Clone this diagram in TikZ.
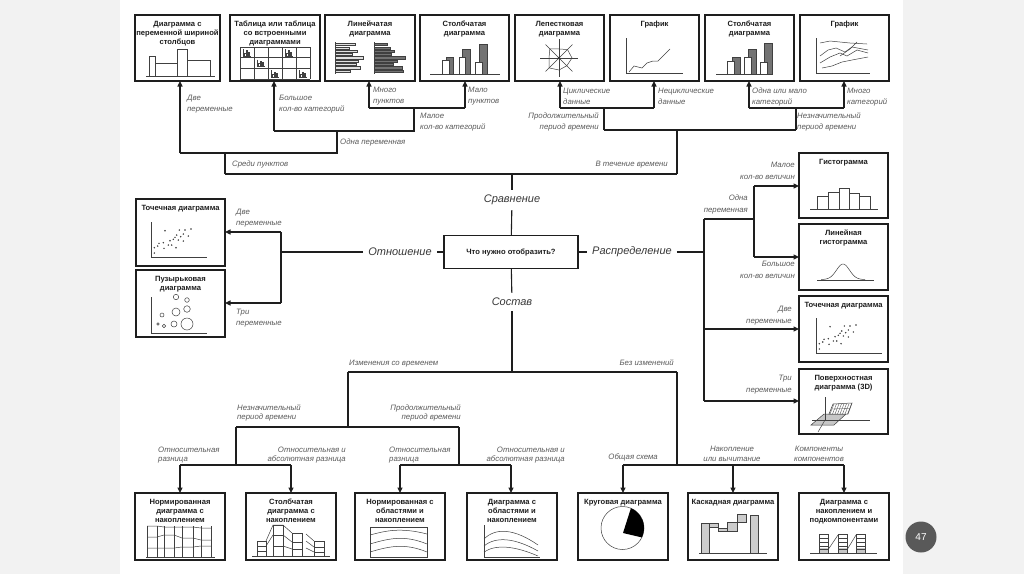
\documentclass[tikz,border=0pt]{standalone}
\usepackage{fontspec}
\setmainfont{Liberation Sans}
\usetikzlibrary{arrows.meta}
\definecolor{margin}{HTML}{F2F2F2}
\definecolor{ink}{HTML}{1E1E1E}
\definecolor{labgray}{HTML}{5A5A5A}
\tikzset{
 box/.style={draw=ink, line width=1.4pt, fill=white, anchor=north west, inner sep=0pt, outer sep=0pt},
 ttl/.style={font=\fontsize{7.6}{9}\selectfont\bfseries, align=center, anchor=north, inner sep=0pt, text=ink, execute at begin node={\vphantom{Йб}}},
 lab/.style={font=\fontsize{7.8}{10.5}\selectfont\itshape, text=labgray, inner sep=0pt},
 labl/.style={lab, align=left, anchor=north west},
 labr/.style={lab, align=right, anchor=north east},
 labc/.style={lab, align=center, anchor=north},
 big/.style={font=\fontsize{11}{13}\selectfont\itshape, text=black!78, inner sep=5pt},
 conn/.style={draw=ink, line width=1.1pt},
 arr/.style={conn, -{Triangle[length=5.5pt,width=5pt]}},
 mini/.style={draw=black!75, line width=0.5pt},
 dot/.style={fill=black!80},
}
\begin{document}
\begin{tikzpicture}[x=1pt,y=-1pt]
\useasboundingbox (0,0) rectangle (1024,574);
\fill[margin] (0,0) rectangle (1024,574);
\fill[white] (120,0) rectangle (903,574);

% ---------- top row boxes ----------
\node[box, minimum width=85pt, minimum height=66pt] (t1) at (135,15) {};
\node[box, minimum width=90pt, minimum height=66pt] (t2) at (230,15) {};
\node[box, minimum width=90pt, minimum height=66pt] (t3) at (325,15) {};
\node[box, minimum width=89pt, minimum height=66pt] (t4) at (420,15) {};
\node[box, minimum width=89pt, minimum height=66pt] (t5) at (515,15) {};
\node[box, minimum width=89pt, minimum height=66pt] (t6) at (610,15) {};
\node[box, minimum width=89pt, minimum height=66pt] (t7) at (705,15) {};
\node[box, minimum width=89pt, minimum height=66pt] (t8) at (800,15) {};
\node[ttl] (t1l) at ([yshift=-6pt]t1.north) {Диаграмма с\\переменной шириной\\столбцов};
\node[ttl] (t2l) at ([yshift=-6pt]t2.north) {Таблица или таблица\\со встроенными\\диаграммами};
\node[ttl] (t3l) at ([yshift=-6pt]t3.north) {Линейчатая\\диаграмма};
\node[ttl] (t4l) at ([yshift=-6pt]t4.north) {Столбчатая\\диаграмма};
\node[ttl] (t5l) at ([yshift=-6pt]t5.north) {Лепестковая\\диаграмма};
\node[ttl] (t6l) at ([yshift=-4pt]t6.north) {График};
\node[ttl] (t7l) at ([yshift=-6pt]t7.north) {Столбчатая\\диаграмма};
\node[ttl] (t8l) at ([yshift=-4pt]t8.north) {График};

% mini charts top row
% t1 variable width
\draw[mini] (146,76) -- (215,76);
\draw[mini] (149,76) rectangle (155,56);
\draw[mini] (155,76) rectangle (177,63);
\draw[mini] (177,76) rectangle (187,49);
\draw[mini] (187,76) rectangle (210,60);
% t2 table
\foreach \gx in {240,254,268,282,296,310} \draw[mini] (\gx,47) -- (\gx,79);
\foreach \gy in {47,57.7,68.3,79} \draw[mini] (240,\gy) -- (310,\gy);
\foreach \cx/\cy in {0/0,3/0,1/1,2/2,4/2}{
 \begin{scope}[shift={({240+14*\cx+3},{47+10.67*\cy+9})}]
  \draw[mini, line width=0.4pt] (0,-7) -- (0,0) -- (8,0);
  \draw[mini, line width=0.4pt] (1.5,0) rectangle (3,-3) (3,0) rectangle (4.5,-5.5) (5,0) rectangle (6.5,-4);
 \end{scope}}
% t3 horizontal bars
\draw[mini] (335,42) -- (335,74);
\draw[mini] (374,42) -- (374,74);
\foreach \i/\la/\lb in {0/355/387,1/349/390,2/357/394,3/352/391,4/363/405,5/358/397,6/356/393,7/360/402,8/350/403}{
 \filldraw[mini, fill=black!12] (335,{43.5+3.3*\i}) rectangle (\la,{45.7+3.3*\i});
 \filldraw[mini, fill=black!55] (374,{43.5+3.3*\i}) rectangle (\lb,{45.7+3.3*\i});}
% t4 columns
\draw[mini] (430,74) -- (500,74);
\filldraw[mini, fill=black!55] (446,74) rectangle (453,57) (462,74) rectangle (470,49) (479,74) rectangle (487,44);
\filldraw[mini, fill=white] (442,74) rectangle (449,60) (459,74) rectangle (465,57) (475,74) rectangle (482,62);
% t5 radar
\foreach \a in {0,45,...,315} \draw[mini] (559,58) -- ++(\a:19);
\draw[mini] (559,58) +(0:13) -- +(45:11) -- +(90:12) -- +(135:14) -- +(180:10) -- +(225:13) -- +(270:9) -- +(315:12) -- cycle;
\fill[dot] (559,58) circle (1.4);
% t6 line chart
\draw[mini] (626,38) -- (626,73) -- (683,73);
\draw[mini] (629,72) -- (634,66) -- (642,68) -- (647,63) -- (653,61) -- (658,61) -- (670,49);
% t7 columns
\draw[mini] (716,74) -- (772,74);
\filldraw[mini, fill=black!55] (732,74) rectangle (740,57) (748,74) rectangle (756,49) (764,74) rectangle (772,43);
\filldraw[mini, fill=white] (727,74) rectangle (734,61) (744,74) rectangle (751,57) (760,74) rectangle (767,62);
% t8 multi lines
\draw[mini] (816,38) -- (816,73) -- (870,73);
\draw[mini] (820,43) -- (830,41) -- (840,42) -- (850,43) -- (867,44);
\draw[mini] (820,63) -- (830,57) -- (840,53) -- (847,56) -- (857,50) -- (868,53);
\draw[mini] (820,56) -- (828,50) -- (836,48) -- (845,52) -- (852,47) -- (868,50);
\draw[mini] (822,68) -- (832,66) -- (842,62) -- (852,60) -- (868,57);
\draw[mini] (840,56) -- (850,49) -- (857,42);

% ---------- top connectors ----------
\coordinate (jTL) at (225,174);
\coordinate (jTM) at (512,174);
\coordinate (jTR) at (677,174);
\coordinate (jA) at (225,153);
\coordinate (jA1) at (180,153);
\coordinate (jA2) at (337,153);
\coordinate (jB2) at (337,131);
\coordinate (jB1) at (274,131);
\coordinate (jB3) at (414,131);
\coordinate (jC3) at (414,108);
\coordinate (jC1) at (369,108);
\coordinate (jC2) at (465,108);
\draw[conn] (jTL) -- (jTR);
\draw[conn] (jTL) -- (jA);
\draw[conn] (jA1) -- (jA2) -- (jB2);
\draw[arr] (jA1) -- (jA1 |- t1.south);
\draw[conn] (jB1) -- (jB3) -- (jC3);
\draw[arr] (jB1) -- (jB1 |- t2.south);
\draw[conn] (jC1) -- (jC2);
\draw[arr] (jC1) -- (jC1 |- t3.south);
\draw[arr] (jC2) -- (jC2 |- t4.south);

\coordinate (jD) at (677,130);
\coordinate (jD1) at (604,130);
\coordinate (jD2) at (796,130);
\coordinate (jE1) at (604,108);
\coordinate (jE1a) at (560,108);
\coordinate (jE1b) at (654,108);
\coordinate (jE2) at (796,108);
\coordinate (jE2a) at (749,108);
\coordinate (jE2b) at (844,108);
\draw[conn] (jTR) -- (jD);
\draw[conn] (jD1) -- (jD2);
\draw[conn] (jD1) -- (jE1);
\draw[conn] (jD2) -- (jE2);
\draw[conn] (jE1a) -- (jE1b);
\draw[conn] (jE2a) -- (jE2b);
\draw[arr] (jE1a) -- (jE1a |- t5.south);
\draw[arr] (jE1b) -- (jE1b |- t6.south);
\draw[arr] (jE2a) -- (jE2a |- t7.south);
\draw[arr] (jE2b) -- (jE2b |- t8.south);

% top labels
\node[labl] (a1) at (187,95) {Две\\переменные};
\node[labl] (a2) at (279,95) {Большое\\кол-во категорий};
\node[labl] (a3) at (373,87) {Много\\пунктов};
\node[labl] (a4) at (468,87) {Мало\\пунктов};
\node[labl] (a5) at (420,113) {Малое\\кол-во категорий};
\node[labl] (a6) at (340,139) {Одна переменная};
\node[labl] (a7) at (232,161) {Среди пунктов};
\node[labl] (a8) at (563,88) {Циклические\\данные};
\node[labl] (a9) at (658,88) {Нециклические\\данные};
\node[labl] (a10) at (752,88) {Одна или мало\\категорий};
\node[labl] (a11) at (847,88) {Много\\категорий};
\node[labr] (a12) at (599,113) {Продолжительный\\период времени};
\node[labl] (a13) at (797,113) {Незначительный\\период времени};
\node[labr] (a14) at (668,161) {В течение времени};

% ---------- centre ----------
\node[box, minimum width=134pt, minimum height=33pt, font=\fontsize{7.6}{9}\selectfont\bfseries, text=ink] (q) at (444,235.5) {Что нужно отобразить?};
\node[big] (srav) at (512,200) {Сравнение};
\node[big] (otn) at (400,252) {Отношение};
\node[big] (rasp) at (632,252) {Распределение};
\node[big] (sost) at (512,302) {Состав};
\draw[conn] (jTM) -- (srav);
\draw[conn] (srav) -- (q);
\draw[conn] (q) -- (otn);
\draw[conn] (q) -- (rasp);
\draw[conn] (q) -- (sost);

% ---------- left (relation) ----------
\node[box, minimum width=89pt, minimum height=67pt] (l1) at (136,199) {};
\node[box, minimum width=89pt, minimum height=67pt] (l2) at (136,270) {};
\node[ttl] (l1l) at ([yshift=-4pt]l1.north) {Точечная диаграмма};
\node[ttl] (l2l) at ([yshift=-6pt]l2.north) {Пузырьковая\\диаграмма};
\coordinate (jO) at (281,252);
\coordinate (jO1) at (281,232);
\coordinate (jO2) at (281,303);
\draw[conn] (otn) -- (jO);
\draw[conn] (jO1) -- (jO2);
\draw[arr] (jO1) -- (jO1 -| l1.east);
\draw[arr] (jO2) -- (jO2 -| l2.east);
\node[labl] (b1a) at (236,209) {Две\\переменные};
\node[labl] (b2a) at (236,309) {Три\\переменные};
% scatter
\draw[mini] (151,222) -- (151,257) -- (207,257);
\foreach \px/\py in {165/230.7,154.3/247.7,157.7/246,159/243.3,163.3/242.7,154.3/253,164/248.3,170/240.7,171.7/245,173.3/239.3,175/237.3,176.7/235,179.3/230,178.3/240,180.7/236.7,183.3/234,183.3/241,185/230,188.3/236,191/229,176/247.7,168.3/245}
 \fill[dot] (\px,\py) circle (0.8);
% bubbles
\draw[mini] (151,297) -- (151,333) -- (207,333);
\foreach \px/\py/\pr in {176/297/2.7,187/300/2.3,176/312/4,187/309/3.3,162/315/2,158/324/1.3,164/326/1.7,174/324/3,187/324/6}
 \draw[mini] (\px,\py) circle (\pr);

% ---------- right (distribution) ----------
\node[box, minimum width=89pt, minimum height=65pt] (r1) at (799,153) {};
\node[box, minimum width=89pt, minimum height=66pt] (r2) at (799,224) {};
\node[box, minimum width=89pt, minimum height=66pt] (r3) at (799,296) {};
\node[box, minimum width=89pt, minimum height=65pt] (r4) at (799,369) {};
\node[ttl] (r1l) at ([yshift=-4pt]r1.north) {Гистограмма};
\node[ttl] (r2l) at ([yshift=-6pt]r2.north) {Линейная\\гистограмма};
\node[ttl] (r3l) at ([yshift=-4pt]r3.north) {Точечная диаграмма};
\node[ttl] (r4l) at ([yshift=-6pt]r4.north) {Поверхностная\\диаграмма (3D)};
\coordinate (jR) at (704,252);
\coordinate (jR1) at (704,219);
\coordinate (jR3) at (704,329);
\coordinate (jR4) at (704,401);
\coordinate (jS) at (754,219);
\coordinate (jS1) at (754,186);
\coordinate (jS2) at (754,257);
\draw[conn] (rasp) -- (jR);
\draw[conn] (jR1) -- (jR4);
\draw[conn] (jR1) -- (jS);
\draw[conn] (jS1) -- (jS2);
\draw[arr] (jS1) -- (jS1 -| r1.west);
\draw[arr] (jS2) -- (jS2 -| r2.west);
\draw[arr] (jR3) -- (jR3 -| r3.west);
\draw[arr] (jR4) -- (jR4 -| r4.west);
\node[labr, font=\fontsize{7.8}{12}\selectfont\itshape] (c1) at (795,162) {Малое\\кол-во величин};
\node[labr, font=\fontsize{7.8}{12}\selectfont\itshape] (c2) at (748,195) {Одна\\переменная};
\node[labr, font=\fontsize{7.8}{12}\selectfont\itshape] (c3) at (795,261) {Большое\\кол-во величин};
\node[labr, font=\fontsize{7.8}{12}\selectfont\itshape] (c4) at (792,306) {Две\\переменные};
\node[labr, font=\fontsize{7.8}{12}\selectfont\itshape] (c5) at (792,375) {Три\\переменные};
% histogram
\draw[mini] (810,209) -- (878,209);
\draw[mini] (817,209) rectangle (828,196) (828,209) rectangle (839,192) (839,209) rectangle (849,188) (849,209) rectangle (859,193) (859,209) rectangle (870,196);
% bell
\draw[mini] (817,280) -- (874,280);
\draw[mini] plot[domain=-22:22, samples=45, smooth] ({843+\x},{279.5-15.5*exp(-((\x)*(\x))/85)});
% scatter right
\begin{scope}[shift={(665,96)}]
\draw[mini] (151,222) -- (151,257) -- (217,257);
\foreach \px/\py in {165/230.7,154.3/247.7,157.7/246,159/243.3,163.3/242.7,154.3/253,164/248.3,170/240.7,171.7/245,173.3/239.3,175/237.3,176.7/235,179.3/230,178.3/240,180.7/236.7,183.3/234,183.3/241,185/230,188.3/236,191/229,176/247.7,168.3/245}
 \fill[dot] (\px,\py) circle (0.8);
\end{scope}
% 3D surface
\filldraw[mini, fill=black!22] (811,425) -- (824,414) -- (846,414) -- (834,425) -- cycle;
\draw[mini] (825,397) -- (825,420);
\draw[mini] (812,420) -- (870,420);
\draw[mini] (825,420) -- (818,432);
\filldraw[mini, fill=white] (829,414) -- (833,404) -- (852,403) -- (848,414) -- cycle;
\foreach \h in {0,2.5,...,17.5} \draw[mini, line width=0.3pt] ({830+\h},414) -- ({834+\h},403.8);
\draw[mini, line width=0.3pt] (831,409) -- (850,408.5);

% ---------- bottom (composition) ----------
\coordinate (jU) at (512,372);
\coordinate (jUL) at (348,372);
\coordinate (jUR) at (677,372);
\coordinate (jV) at (348,427);
\coordinate (jVL) at (236,427);
\coordinate (jVR) at (459,427);
\coordinate (jW1) at (236,465);
\coordinate (jW1a) at (180,465);
\coordinate (jW1b) at (291,465);
\coordinate (jW2) at (459,465);
\coordinate (jW2a) at (400,465);
\coordinate (jW2b) at (511,465);
\coordinate (jW3) at (677,465);
\coordinate (jW3a) at (623,465);
\coordinate (jW3b) at (733,465);
\coordinate (jW3c) at (844,465);
\draw[conn] (sost) -- (jU);
\draw[conn] (jUL) -- (jUR);
\draw[conn] (jUL) -- (jV);
\draw[conn] (jVL) -- (jVR);
\draw[conn] (jVL) -- (jW1);
\draw[conn] (jW1a) -- (jW1b);
\draw[conn] (jVR) -- (jW2);
\draw[conn] (jW2a) -- (jW2b);
\draw[conn] (jUR) -- (jW3);
\draw[conn] (jW3a) -- (jW3c);

\node[box, minimum width=90pt, minimum height=67pt] (b1) at (135,493) {};
\node[box, minimum width=90pt, minimum height=67pt] (b2) at (246,493) {};
\node[box, minimum width=90pt, minimum height=67pt] (b3) at (355,493) {};
\node[box, minimum width=90pt, minimum height=67pt] (b4) at (467,493) {};
\node[box, minimum width=90pt, minimum height=67pt] (b5) at (578,493) {};
\node[box, minimum width=90pt, minimum height=67pt] (b6) at (688,493) {};
\node[box, minimum width=90pt, minimum height=67pt] (b7) at (799,493) {};
\node[ttl] (b1l) at ([yshift=-6pt]b1.north) {Нормированная\\диаграмма с\\накоплением};
\node[ttl] (b2l) at ([yshift=-6pt]b2.north) {Столбчатая\\диаграмма с\\накоплением};
\node[ttl] (b3l) at ([yshift=-6pt]b3.north) {Нормированная с\\областями и\\накоплением};
\node[ttl] (b4l) at ([yshift=-6pt]b4.north) {Диаграмма с\\областями и\\накоплением};
\node[ttl] (b5l) at ([yshift=-4pt]b5.north) {Круговая диаграмма};
\node[ttl] (b6l) at ([yshift=-4pt]b6.north) {Каскадная диаграмма};
\node[ttl] (b7l) at ([yshift=-6pt]b7.north) {Диаграмма с\\накоплением и\\подкомпонентами};
\draw[arr] (jW1a) -- (jW1a |- b1.north);
\draw[arr] (jW1b) -- (jW1b |- b2.north);
\draw[arr] (jW2a) -- (jW2a |- b3.north);
\draw[arr] (jW2b) -- (jW2b |- b4.north);
\draw[arr] (jW3a) -- (jW3a |- b5.north);
\draw[arr] (jW3b) -- (jW3b |- b6.north);
\draw[arr] (jW3c) -- (jW3c |- b7.north);

\node[labl] (d1) at (349,360) {Изменения со временем};
\node[labr] (d2) at (674,360) {Без изменений};
\node[labl, font=\fontsize{7.8}{9}\selectfont\itshape] (d3) at (237,405) {Незначительный\\период времени};
\node[labr, font=\fontsize{7.8}{9}\selectfont\itshape] (d4) at (461,405) {Продолжительный\\период времени};
\node[labl, font=\fontsize{7.8}{9}\selectfont\itshape] (d5) at (158,447) {Относительная\\разница};
\node[labr, font=\fontsize{7.8}{9}\selectfont\itshape] (d6) at (346,447) {Относительная и\\абсолютная разница};
\node[labl, font=\fontsize{7.8}{9}\selectfont\itshape] (d7) at (389,447) {Относительная\\разница};
\node[labr, font=\fontsize{7.8}{9}\selectfont\itshape] (d8) at (565,447) {Относительная и\\абсолютная разница};
\node[labr] (d9) at (658,454) {Общая схема};
\node[labc, font=\fontsize{7.8}{10}\selectfont\itshape] (d10) at (732,446) {Накопление\\или вычитание};
\node[labc, font=\fontsize{7.8}{10}\selectfont\itshape] (d11) at (819,446) {Компоненты\\компонентов};

% b1 normalized stacked
\draw[mini] (146,557) -- (215,557);
\foreach \cl/\cr in {147/157,164/174,182/193,201/211} \draw[mini] (\cl,557) -- (\cl,526) (\cr,557) -- (\cr,526);
\draw[mini] (147,526) -- (157,526) -- (164,527) -- (174,527) -- (182,527) -- (193,527) -- (201,528) -- (211,528);
\draw[mini] (147,537) -- (157,537) -- (164,535) -- (174,535) -- (182,538) -- (193,538) -- (201,540) -- (211,540);
\draw[mini] (147,548) -- (157,548) -- (164,548) -- (174,548) -- (182,547) -- (193,547) -- (201,546) -- (211,546);
% b2 stacked
\draw[mini] (252,556) -- (330,556);
\draw[mini] (257,556) rectangle (266,541) (273,556) rectangle (283,525) (292,556) rectangle (302,533) (314,556) rectangle (324,541);
\draw[mini] (257,546) -- (266,546) (257,551) -- (266,551);
\draw[mini] (273,535) -- (283,535) (273,546) -- (283,546);
\draw[mini] (292,542) -- (302,542) (292,549) -- (302,549);
\draw[mini] (314,547) -- (324,547) (314,552) -- (324,552);
\draw[mini] (266,541) -- (273,525) -- (283,525) -- (292,533);
\draw[mini] (266,546) -- (273,535) (283,535) -- (292,542) (283,546) -- (292,549);
\draw[mini] (306,534) -- (314,541) (306,541) -- (314,547) (306,548) -- (314,552);
% b3 normalized area
\draw[mini] (370,527) rectangle (427,557);
\draw[mini] (370,535) .. controls (385,531) and (400,527) .. (427,534);
\draw[mini] (370,544) .. controls (390,538) and (405,535) .. (427,544);
\draw[mini] (370,552) .. controls (390,546) and (405,543) .. (427,552);
% b4 area
\draw[mini] (484,525) -- (484,557) -- (540,557);
\draw[mini] (484,539) .. controls (496,527) and (515,529) .. (538,545);
\draw[mini] (484,546) .. controls (496,536) and (515,538) .. (538,551);
\draw[mini] (484,552) .. controls (496,544) and (515,546) .. (538,556);
% b5 pie
\draw[mini] (622.5,528) circle (21.5);
\fill[black] (623,533) -- ([shift={(-67:21.5)}]622.5,528) arc[start angle=-67, end angle=26, radius=21.5] -- cycle;
% b6 waterfall
\draw[mini] (699,553) -- (767,553);
\filldraw[mini, fill=black!20] (701,553) rectangle (709,523);
\filldraw[mini, fill=black!20] (709,523) rectangle (718,527);
\filldraw[mini, fill=black!20] (718,528) rectangle (727,531);
\filldraw[mini, fill=black!20] (727,522) rectangle (737,531);
\filldraw[mini, fill=black!20] (737,514) rectangle (746,522);
\filldraw[mini, fill=black!20] (750,553) rectangle (758,515);
% b7 subcomponents
\draw[mini] (810,553) -- (877,553);
\foreach \cl in {819,838,856}{
 \fill[black!22] (\cl,548) rectangle ({\cl+9.5},553);
 \draw[mini] (\cl,553) rectangle ({\cl+9.5},534);
 \foreach \hy in {538,542,546,549.5} \draw[mini, line width=0.4pt] (\cl,\hy) -- ({\cl+9.5},\hy);}
\draw[mini] (828.5,549) -- (838,535) (847.5,549) -- (856,535);

% slide number
\node[circle, fill=black!65, minimum size=31pt, inner sep=0pt, text=white, font=\fontsize{10}{12}\selectfont] (pg) at (921,537) {47};
\end{tikzpicture}
\end{document}
